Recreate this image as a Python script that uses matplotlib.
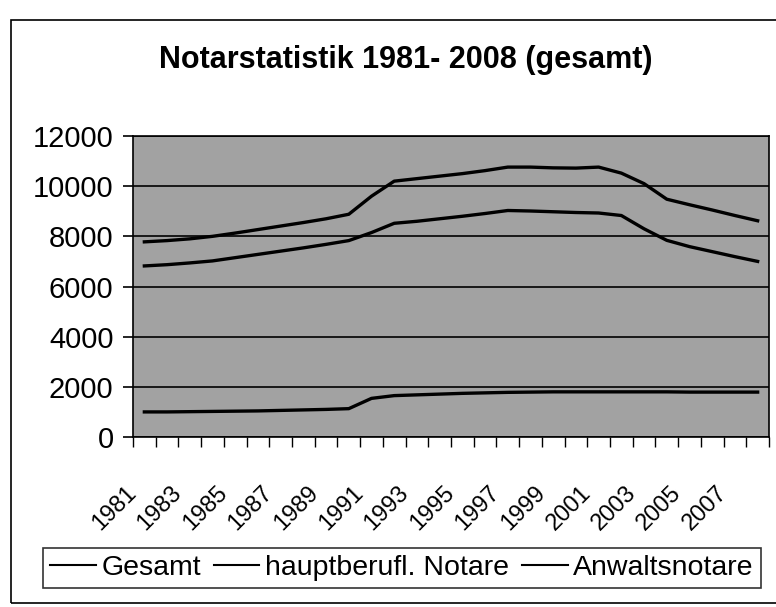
import numpy as np
import matplotlib.pyplot as plt
from matplotlib.patches import Rectangle

# Notarstatistik 1981-2008, Werte
years = list(range(1981, 2009))
gesamt = [7780, 7830, 7900, 8000, 8130, 8270, 8410, 8550, 8700, 8880,
          9600, 10200, 10300, 10400, 10500, 10620, 10760, 10760, 10730, 10720,
          10760, 10520, 10100, 9480, 9260, 9050, 8830, 8620]
anwaltsnotare = [6820, 6870, 6940, 7020, 7150, 7280, 7410, 7540, 7680, 7830,
                 8150, 8520, 8600, 8700, 8800, 8910, 9030, 9010, 8980, 8950,
                 8930, 8830, 8300, 7840, 7590, 7390, 7190, 7000]
hauptberufl = [1000, 1000, 1010, 1020, 1030, 1040, 1060, 1080, 1100, 1130,
               1540, 1650, 1680, 1710, 1740, 1760, 1780, 1790, 1800, 1800,
               1800, 1800, 1800, 1800, 1790, 1790, 1790, 1790]
series_names = ["Gesamt", "hauptberufl. Notare", "Anwaltsnotare"]
yticks = [0, 2000, 4000, 6000, 8000, 10000, 12000]
title = "Notarstatistik 1981- 2008 (gesamt)"

plt.rcParams['font.family'] = ['Liberation Sans', 'DejaVu Sans']
plt.rcParams['hatch.linewidth'] = 0.8
plt.rcParams['hatch.color'] = '#6e6e6e'

W, H = 776, 607
fig = plt.figure(figsize=(W / 100, H / 100), dpi=100)


def fx(px):
    return px / W


def fy(py):
    return 1 - py / H


# Rahmen um das ganze Diagramm
fig.add_artist(Rectangle((fx(11), fy(603)), 1.0, fy(20) - fy(603),
                         transform=fig.transFigure, fill=False,
                         edgecolor='black', lw=1.2))

fig.text(fx(406), fy(60), title, ha='center', va='center',
         fontsize=22, fontweight='bold')

ax = fig.add_axes([fx(133), fy(437), fx(769) - fx(133), fy(136) - fy(437)])
ax.set_facecolor('#a2a2a2')
# gerasterter Hintergrund wie im Scan
ax.add_patch(Rectangle((0, 0), 1, 1, transform=ax.transAxes, facecolor='none',
                       edgecolor='none', hatch='|||||', zorder=0))

x = np.arange(len(years))
for vals, name in zip([gesamt, hauptberufl, anwaltsnotare], series_names):
    ax.plot(x, vals, color='black', lw=2.4, label=name, solid_joinstyle='round')

ax.set_xlim(-0.5, len(years) - 0.5)
ax.set_ylim(0, 12000)
ax.set_yticks(yticks)
ax.yaxis.grid(True, color='black', lw=1.2)
ax.set_axisbelow(True)
for sp in ax.spines.values():
    sp.set_linewidth(1.2)
ax.tick_params(axis='y', labelsize=21, length=7, width=1.2, pad=7)

bounds = np.arange(-0.5, len(years), 1)
ax.set_xticks(bounds)
xlabels = [str(years[0] + k) if k % 2 == 0 and k < len(years) else ''
           for k in range(len(bounds))]
ax.set_xticklabels(xlabels, rotation=45, ha='right', va='center',
                   rotation_mode='anchor', fontsize=17)
ax.tick_params(axis='x', length=7, width=1.0, pad=31)

leg = fig.legend(loc='center', bbox_to_anchor=(fx(402), fy(568)), ncol=3,
                 frameon=True, fancybox=False, edgecolor='black', fontsize=20.5,
                 handlelength=1.6, handletextpad=0.2, columnspacing=0.45,
                 borderpad=0.25)
leg.get_frame().set_linewidth(1.2)
for ln in leg.get_lines():
    ln.set_linewidth(1.5)

fig.savefig('out.png', dpi=100)
